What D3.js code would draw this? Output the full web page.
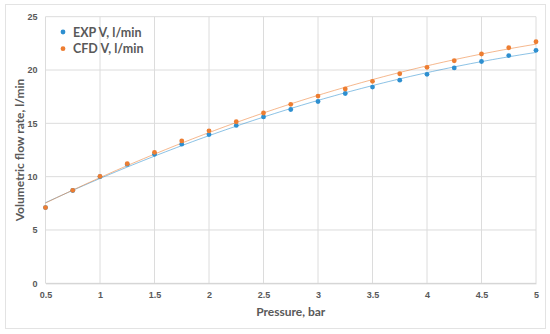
<!DOCTYPE html>
<html>
<head>
<meta charset="utf-8">
<script src="https://cdn.jsdelivr.net/npm/d3@7"></script>
<style>
  body { margin: 0; background: #fff; }
  svg { font-family: Lato, "Open Sans", sans-serif; }
</style>
</head>
<body>
<div id="container"></div>
<script>
// data
const pressure = [0.5, 0.75, 1, 1.25, 1.5, 1.75, 2, 2.25, 2.5, 2.75, 3, 3.25, 3.5, 3.75, 4, 4.25, 4.5, 4.75, 5];
const expV = [7.1, 8.7, 10.0, 11.15, 12.1, 13.05, 13.95, 14.8, 15.6, 16.3, 17.05, 17.8, 18.4, 19.05, 19.6, 20.2, 20.8, 21.35, 21.85];
const cfdV = [7.1, 8.72, 10.03, 11.22, 12.28, 13.35, 14.3, 15.15, 15.97, 16.78, 17.56, 18.22, 18.94, 19.65, 20.25, 20.87, 21.5, 22.09, 22.65];
const xTicks = [0.5, 1, 1.5, 2, 2.5, 3, 3.5, 4, 4.5, 5];
const yTicks = [0, 5, 10, 15, 20, 25];
const seriesNames = ["EXP V, l/min", "CFD V, l/min"];
const seriesColors = ["#2D8FD0", "#ED7D31"];

const WIDTH = 550;
const HEIGHT = 334;
const margin = { left: 45.5, right: 14, top: 16.7, bottom: 50.7 };

const svg = d3.select("#container")
    .append("svg")
    .attr("width", WIDTH)
    .attr("height", HEIGHT);

// outer chart border
svg.append("rect")
    .attr("x", 5.5).attr("y", 4.5)
    .attr("width", 540).attr("height", 324)
    .attr("fill", "#fff")
    .attr("stroke", "#e3e3e3");

const xScale = d3.scaleLinear()
    .domain([0.5, 5])
    .range([margin.left, WIDTH - margin.right]);

const yScale = d3.scaleLinear()
    .domain([0, 25])
    .range([HEIGHT - margin.bottom, margin.top]);

// gridlines
svg.append("g")
    .selectAll("line")
    .data(yTicks)
    .enter()
    .append("line")
    .attr("x1", xScale(0.5)).attr("x2", xScale(5))
    .attr("y1", (d) => yScale(d)).attr("y2", (d) => yScale(d))
    .attr("stroke", "#dcdcdc");

svg.append("g")
    .selectAll("line")
    .data(xTicks)
    .enter()
    .append("line")
    .attr("x1", (d) => xScale(d)).attr("x2", (d) => xScale(d))
    .attr("y1", yScale(0)).attr("y2", yScale(25))
    .attr("stroke", "#dcdcdc");

// axes (labels only)
const bottomAxis = d3.axisBottom(xScale)
    .tickValues(xTicks)
    .tickSize(0)
    .tickPadding(8)
    .tickFormat(d3.format("~g"));

svg.append("g")
    .attr("transform", "translate(0, " + yScale(0) + ")")
    .call(bottomAxis)
    .call((g) => g.select(".domain").attr("stroke", "#d0d0d0"))
    .call((g) => g.selectAll("text").attr("fill", "#595959").style("font-size", "9px").style("font-weight", "bold"));

const leftAxis = d3.axisLeft(yScale)
    .tickValues(yTicks)
    .tickSize(0)
    .tickPadding(8);

svg.append("g")
    .attr("transform", "translate(" + xScale(0.5) + ", 0)")
    .call(leftAxis)
    .call((g) => g.select(".domain").remove())
    .call((g) => g.selectAll("text").attr("fill", "#595959").style("font-size", "9px").style("font-weight", "bold"));

// axis titles
svg.append("text")
    .attr("x", (xScale(0.5) + xScale(5)) / 2)
    .attr("y", 315.5)
    .attr("text-anchor", "middle")
    .attr("fill", "#595959")
    .style("font-size", "12px")
    .style("font-weight", "bold")
    .text("Pressure, bar");

svg.append("text")
    .attr("transform", "translate(24, " + (yScale(12.5)) + ") rotate(-90)")
    .attr("text-anchor", "middle")
    .attr("fill", "#595959")
    .style("font-size", "12px")
    .style("font-weight", "bold")
    .text("Volumetric flow rate, l/min");

// quadratic least squares trendline
const polyFit = (xs, ys) => {
    let s = [0, 0, 0, 0, 0], t = [0, 0, 0];
    xs.forEach((x, i) => {
        for (let k = 0; k < 5; k++) s[k] += Math.pow(x, k);
        for (let k = 0; k < 3; k++) t[k] += Math.pow(x, k) * ys[i];
    });
    const A = [[s[0], s[1], s[2], t[0]], [s[1], s[2], s[3], t[1]], [s[2], s[3], s[4], t[2]]];
    for (let c = 0; c < 3; c++) {
        for (let r = c + 1; r < 3; r++) {
            const f = A[r][c] / A[c][c];
            for (let k = c; k < 4; k++) A[r][k] -= f * A[c][k];
        }
    }
    const b = [0, 0, 0];
    for (let r = 2; r >= 0; r--) {
        let v = A[r][3];
        for (let k = r + 1; k < 3; k++) v -= A[r][k] * b[k];
        b[r] = v / A[r][r];
    }
    return (x) => b[0] + b[1] * x + b[2] * x * x;
};

const line = d3.line()
    .x((d) => xScale(d[0]))
    .y((d) => yScale(d[1]));

[expV, cfdV].forEach((vals, si) => {
    const fit = polyFit(pressure, vals);
    const pts = d3.range(0.5, 5.001, 0.05).map((x) => [x, fit(x)]);
    svg.append("path")
        .datum(pts)
        .attr("fill", "none")
        .attr("stroke", seriesColors[si])
        .attr("stroke-opacity", 0.55)
        .attr("stroke-width", 1)
        .attr("d", line);
});

[expV, cfdV].forEach((vals, si) => {
    svg.append("g")
        .selectAll("circle")
        .data(vals)
        .enter()
        .append("circle")
        .attr("cx", (d, i) => xScale(pressure[i]))
        .attr("cy", (d) => yScale(d))
        .attr("r", 2.4)
        .attr("fill", seriesColors[si]);
});

// legend
const legend = svg.append("g");
seriesNames.forEach((name, i) => {
    legend.append("circle")
        .attr("cx", 63)
        .attr("cy", 32 + i * 16.7)
        .attr("r", 2.4)
        .attr("fill", seriesColors[i]);
    legend.append("text")
        .attr("x", 73)
        .attr("y", 36.5 + i * 16.7)
        .attr("fill", "#595959")
        .style("font-size", "12.5px")
        .style("font-weight", "bold")
        .text(name);
});
</script>
</body>
</html>
